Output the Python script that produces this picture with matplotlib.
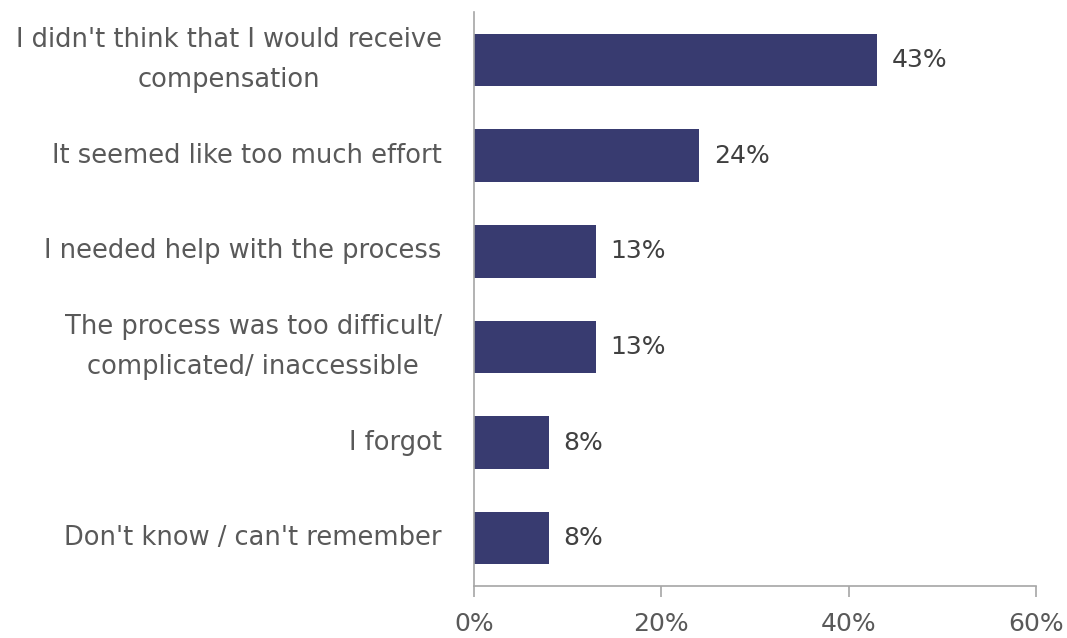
import numpy as np
import matplotlib.pyplot as plt
from matplotlib.transforms import ScaledTranslation

categories = [
    "I didn't think that I would receive\ncompensation",
    "It seemed like too much effort",
    "I needed help with the process",
    "The process was too difficult/\ncomplicated/ inaccessible",
    "I forgot",
    "Don't know / can't remember",
]
values = [43, 24, 13, 13, 8, 8]
xticks = [0, 20, 40, 60]

bar_color = "#383B70"
text_color = "#595959"
axis_color = "#A6A6A6"

plt.rcParams['font.family'] = ['DejaVu Sans']

fig = plt.figure(figsize=(10.67, 6.38), dpi=100)
ax = fig.add_axes([0.444, 0.0815, 0.527, 0.8995])

y = np.arange(len(categories))
ax.barh(y, values, height=0.55, color=bar_color)

for yi, v in zip(y, values):
    ax.text(v + 1.6, yi, f"{v}%", va="center", ha="left", fontsize=18, color="#404040")

ax.set_xlim(0, 60)
ax.set_ylim(len(categories) - 0.5, -0.5)
ax.set_yticks(y)
ax.set_yticklabels(categories, fontsize=18.5, color=text_color, linespacing=1.7)
ax.set_xticks(xticks)
ax.set_xticklabels([f"{t}%" for t in xticks], fontsize=18, color=text_color)

# multi-line labels are centred on each other, sit a touch above bar centre
shift = ScaledTranslation(0, 3 / 72, fig.dpi_scale_trans)
for lbl in ax.get_yticklabels():
    lbl.set_horizontalalignment("right")
    lbl.set_verticalalignment("center")
    lbl.set_multialignment("center")
    lbl.set_transform(lbl.get_transform() + shift)

ax.tick_params(axis="y", length=0, pad=23)
ax.tick_params(axis="x", length=8, width=1.2, color=axis_color, pad=11)

for s in ["top", "right"]:
    ax.spines[s].set_visible(False)
for s in ["left", "bottom"]:
    ax.spines[s].set_color(axis_color)
    ax.spines[s].set_linewidth(1.2)

fig.savefig("out.png", dpi=100)
